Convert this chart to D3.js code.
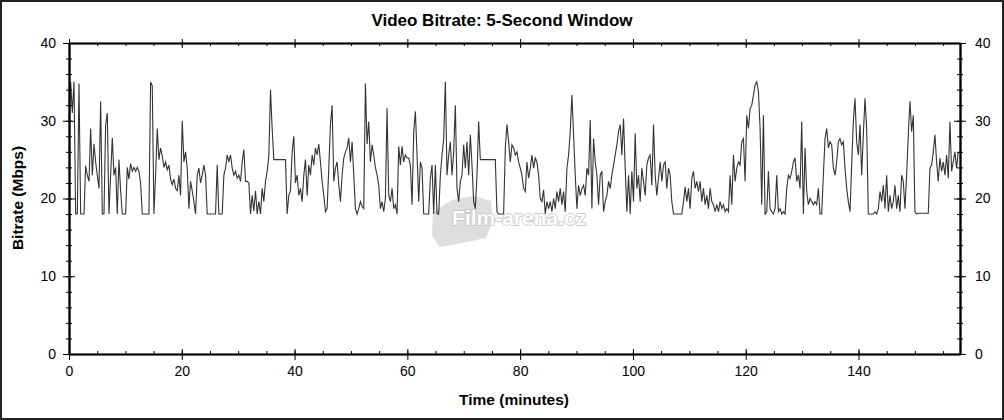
<!DOCTYPE html>
<html><head><meta charset="utf-8">
<script src="https://cdn.jsdelivr.net/npm/d3@7"></script>
<style>
html,body{margin:0;padding:0;background:#fff;}
svg{display:block;font-family:"Liberation Sans",Arial,sans-serif;}
</style></head>
<body>
<svg id="chart" width="1004" height="420"></svg>
<script>
// ---- data ----
const chartTitle = "Video Bitrate: 5-Second Window";
const xLabel = "Time (minutes)";
const yLabel = "Bitrate (Mbps)";
const xTicks = [0, 20, 40, 60, 80, 100, 120, 140];
const yTicks = [0, 10, 20, 30, 40];
const sampleStepMin = 0.2953; // minutes between samples
// bitrate samples (Mbps), minutes 0 - 52.5
const bitrateA = [
 30,35,31,35,18,18,34.8,18,18,18,
 24.2,23,22.2,29,23,27,24.7,23,21.3,32.5,
 18,18,29.5,31,18,23,27.8,23,24,18,
 25,21,18,18,18,24,22.5,24.5,23.5,24,
 23.5,24,23.5,22,18,18,18,18,18,35,
 34.5,18,23,29,25,26.5,25.5,24,24.7,23.7,
 24.3,22.5,21.8,22.5,21.3,21,23,20.4,30,24.7,
 26,23.9,18.7,22.2,21,19.6,18,23,23.9,22,
 23,24.3,23,18,18,18,18,18,18,24.3,
 18,18,18,23,23.9,25.6,24.7,25.6,23.9,23,
 23.5,22.6,23,22.2,24.7,26.3,22.2,22.2,22,18,
 20.4,18.4,21,18,19.6,18,21.3,19.6,22.2,23.5,
 25.5,34,29,25,25,25,25,25,25,25,
 25,18,20.4,21,26,28,22,23,20.4,21.3,
 19.6,23,25,20.4,24.3,23,25.6,24.3,26.5,25.6,
 27,24.7,22.2,20.4,18.3,18.7,23.9,29.5,32,22.2,
 23.9,24.7,21.8,19.6,23,25.2,26,26.5,27.8,24.7,
 27.3,23,18.7,18,18.7,19.6,19,18.7,34.8
];
// minutes 52.8 - 105.6
const bitrateB = [
 27,29.9,24.7,26.9,25.6,24,23,21.7,18.7,19.6,
 18.3,20,31.6,20.4,19.6,21.3,18.7,19.2,18,26.7,
 24.3,26.7,24.7,25.6,25.2,25.2,24.3,19.2,28.6,31.2,
 25.6,19.6,24.7,23.9,18,18,18,18,22.6,24.3,
 18,24.3,18,18,23,25.6,27.7,35,23,25.6,
 27.3,23,26,32,21.3,19.6,22.2,23,26.9,23.9,
 27.3,23,28.2,24.3,19.6,18.7,23,29.9,25,25,
 25,25,25,25,25,25,25,25,18.3,18,
 18,18,18,26.5,29.5,27.3,24.7,26.9,26.5,25.6,
 26,24.7,23.9,23,21.3,20.9,24.7,22.6,23.9,25.6,
 23.9,25.2,24.7,23,20,19.6,21.1,18,19.6,18.7,
 19.6,18.3,20,18.7,20.9,19.6,21.3,19.2,20.9,18.3,
 23.9,25.6,28.6,33.3,28.2,23,18.7,21.7,20.4,21.3,
 21.7,20.4,23.9,23,30.1,18.7,27.7,24.7,23,19.2,
 23,23.5,18.3,19.6,20.4,22.2,21.3,23,24.3,25.6,
 26.9,28.6,29.5,25.6,30.3,23.9,18.3,23,18,23.5,
 19.6,28.4,21.3,23,19.6,23.9,22.2,20.4,24.3,25.2,
 25.6,21.7,29.5,23,20.4,22.6,24.7,22.2,24.3
];
// minutes 105.7 - 157.7
const bitrateC = [
 24.7,21.3,23.9,23,19.6,18,18,18,18,18,
 18,19.6,21.5,19.6,21.3,18.7,22.6,23.5,21.3,22.2,
 20.9,22.2,19.6,21.3,19.2,20.4,18.7,21.3,19.6,19.2,
 18.3,19.2,18.3,19.6,18.7,19.2,18.3,18.7,18.3,23,
 19.2,25.6,22.2,23.9,24.7,24.3,27.3,27.7,22.2,30.7,
 29,31.6,32,33.3,34.6,35,33.8,29,19.2,30.7,
 18,18.3,23.5,18.7,18.3,18,18.7,23,18.3,18.7,
 18,18.3,18,21.3,23,22.6,23.5,24.7,25.2,22.2,
 23,21.3,29.9,18,26.5,20.9,19.2,20,19.6,19.2,
 19.6,19.2,21.3,18,18,23,27.7,29,26.5,27.3,
 26.9,23.9,23,24.7,27.3,27.7,26.9,27.3,23.9,21.3,
 19.6,18.3,24.3,29.9,32.9,27.3,25.6,29.5,23,28.2,
 32.9,29,18,18,18,18,18.3,18,18.7,20.9,
 19.6,21.7,18.7,23,18.3,20.4,18.7,19.6,21.7,18.7,
 20.4,18.3,23,22.2,18.7,23,28.2,32.5,28.6,30.7,
 18.3,18,18.1,18.1,18.1,18.1,18.1,18.1,18.1,23.9,
 24.3,26,28.2,24.7,22.2,25.2,23.5,24.7,23,25.6,
 22.6,29.9,23.5,24.7,26,23.9,26
];
const bitrate = bitrateA.concat(bitrateB, bitrateC);

// ---- chart ----
const W = 1004, H = 420;
const svg = d3.select("#chart");
const x = d3.scaleLinear().domain([0, 158]).range([69, 960]);
const y = d3.scaleLinear().domain([0, 40]).range([354, 43]);

// outer frame
svg.append("rect").attr("x", 1).attr("y", 1).attr("width", W - 2).attr("height", H - 2)
  .attr("fill", "#fff").attr("stroke", "#222").attr("stroke-width", 2);

// watermark
const wm = svg.append("g");
wm.append("path")
  .attr("d", "M433,212 L452,200 L474,196 L491,201 L493,222 L486,238 L462,243 L440,247 L432,236 Z")
  .attr("fill", "#dedede");
wm.append("text").attr("x", 452).attr("y", 225)
  .attr("font-size", 21).attr("font-weight", "bold")
  .attr("fill", "#fff").attr("stroke", "#c4c4c4").attr("stroke-width", 1.5)
  .attr("paint-order", "stroke")
  .text("Film-arena.cz");

// data line
const line = d3.line()
  .x((d, i) => x(i * sampleStepMin))
  .y(d => y(d));
svg.append("path").datum(bitrate)
  .attr("d", line)
  .attr("fill", "none").attr("stroke", "#333").attr("stroke-width", 1.1);

// axes helpers
const minorX = d3.range(0, 158, 5);
const minorY = d3.range(0, 41, 2);
function style(g, showText) {
  g.selectAll(".domain").attr("stroke", "#000").attr("stroke-width", 1.5);
  g.selectAll(".tick line").attr("stroke", "#000").attr("stroke-width", 1);
  g.selectAll("text").attr("font-size", 14).attr("fill", "#000")
    .attr("font-family", "'Liberation Sans', Arial, sans-serif");
  if (!showText) g.selectAll("text").remove();
}
// bottom
svg.append("g").attr("transform", `translate(0,${y(0)})`)
  .call(d3.axisBottom(x).tickValues(minorX).tickSize(-3).tickSizeOuter(0).tickFormat(""))
  .call(g => style(g, false));
svg.append("g").attr("transform", `translate(0,${y(0)})`)
  .call(d3.axisBottom(x).tickValues(xTicks).tickSize(-5).tickSizeOuter(0).tickFormat(""))
  .call(g => style(g, false));
svg.append("g").attr("transform", `translate(0,${y(0)})`)
  .call(d3.axisBottom(x).tickValues(xTicks).tickSize(6).tickPadding(6).tickSizeOuter(0).tickFormat(d3.format("d")))
  .call(g => style(g, true));
// top
svg.append("g").attr("transform", `translate(0,${y(40)})`)
  .call(d3.axisTop(x).tickValues(minorX).tickSize(-3).tickSizeOuter(0).tickFormat(""))
  .call(g => style(g, false));
svg.append("g").attr("transform", `translate(0,${y(40)})`)
  .call(d3.axisTop(x).tickValues(xTicks).tickSize(-5).tickSizeOuter(0).tickFormat(""))
  .call(g => style(g, false));
svg.append("g").attr("transform", `translate(0,${y(40)})`)
  .call(d3.axisTop(x).tickValues(xTicks).tickSize(4).tickSizeOuter(0).tickFormat(""))
  .call(g => style(g, false));
// left
svg.append("g").attr("transform", `translate(${x(0)},0)`)
  .call(d3.axisLeft(y).tickValues(minorY).tickSize(3).tickSizeOuter(0).tickFormat(""))
  .call(g => style(g, false));
svg.append("g").attr("transform", `translate(${x(0)},0)`)
  .call(d3.axisLeft(y).tickValues(minorY).tickSize(-3).tickSizeOuter(0).tickFormat(""))
  .call(g => style(g, false));
svg.append("g").attr("transform", `translate(${x(0)},0)`)
  .call(d3.axisLeft(y).tickValues(yTicks).tickSize(-6).tickSizeOuter(0).tickFormat(""))
  .call(g => style(g, false));
svg.append("g").attr("transform", `translate(${x(0)},0)`)
  .call(d3.axisLeft(y).tickValues(yTicks).tickSize(6).tickPadding(7).tickSizeOuter(0).tickFormat(d3.format("d")))
  .call(g => style(g, true));
// right
svg.append("g").attr("transform", `translate(${x(158)},0)`)
  .call(d3.axisRight(y).tickValues(minorY).tickSize(3).tickSizeOuter(0).tickFormat(""))
  .call(g => style(g, false));
svg.append("g").attr("transform", `translate(${x(158)},0)`)
  .call(d3.axisRight(y).tickValues(minorY).tickSize(-3).tickSizeOuter(0).tickFormat(""))
  .call(g => style(g, false));
svg.append("g").attr("transform", `translate(${x(158)},0)`)
  .call(d3.axisRight(y).tickValues(yTicks).tickSize(-6).tickSizeOuter(0).tickFormat(""))
  .call(g => style(g, false));
svg.append("g").attr("transform", `translate(${x(158)},0)`)
  .call(d3.axisRight(y).tickValues(yTicks).tickSize(6).tickPadding(9).tickSizeOuter(0).tickFormat(d3.format("d")))
  .call(g => style(g, true));

// titles
svg.append("text").attr("x", 502).attr("y", 26).attr("text-anchor", "middle")
  .attr("font-size", 17).attr("font-weight", "bold").text(chartTitle);
svg.append("text").attr("x", 514).attr("y", 405).attr("text-anchor", "middle")
  .attr("font-size", 15.5).attr("font-weight", "bold").text(xLabel);
svg.append("text").attr("transform", "translate(23,198) rotate(-90)").attr("text-anchor", "middle")
  .attr("font-size", 15.5).attr("font-weight", "bold").text(yLabel);
</script>
</body></html>
